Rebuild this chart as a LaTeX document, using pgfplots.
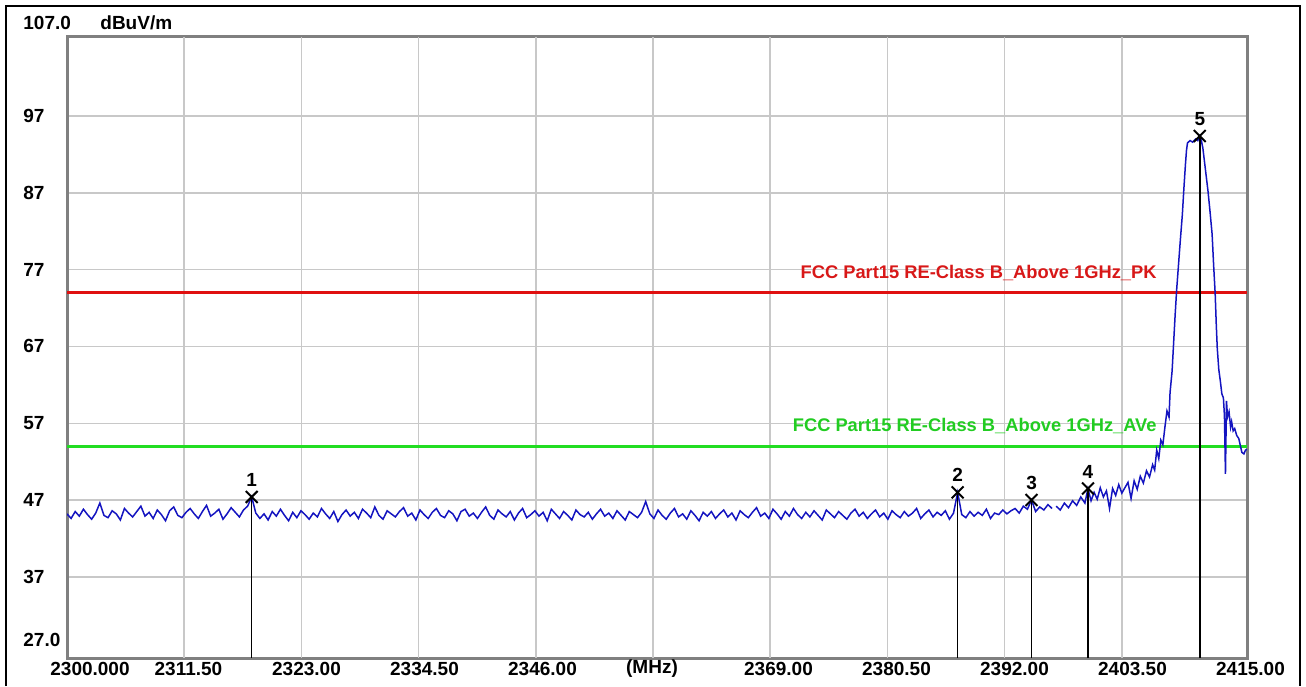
\documentclass[border=0pt]{standalone}
\usepackage{pgfplots}
\pgfplotsset{compat=1.18}
\usepackage{pgfplotstable}
\usepackage{fontspec}
\setmainfont{Liberation Sans}
\definecolor{frameg}{HTML}{808080}
\definecolor{gridg}{HTML}{C8C8C8}
\definecolor{trace}{HTML}{1414C0}
\definecolor{pkred}{HTML}{E01010}
\definecolor{avgreen}{HTML}{22DD22}
\definecolor{pktext}{HTML}{D81818}
\definecolor{avtext}{HTML}{22CC22}
\newcommand\tf{\bfseries\fontsize{9.5}{11}\selectfont}
\newcommand\lf{\bfseries\fontsize{9.15}{11}\selectfont}

\pgfplotstableread{
y
45.2
44.6
45.5
44.9
45.8
45.1
44.5
45.3
46.6
45.0
44.7
45.6
45.2
44.4
45.9
45.3
44.8
45.5
46.2
44.9
45.4
44.6
45.7
45.1
44.3
45.6
46.1
45.0
44.7
45.4
45.9
45.2
44.6
45.5
46.3
44.9
45.3
45.8
44.5
45.2
46.0
45.4
44.8
45.7
46.2
47.4
45.3
44.6
45.2
44.4
45.5
44.9
45.8
45.0
44.3
45.4
44.7
45.6
45.1
44.5
45.3
44.8
45.9
45.2
44.6
45.5
44.2
45.1
45.7
44.9
45.4
44.6
45.8
45.3
44.7
46.1
45.0
44.5
45.6
45.2
44.8
45.5
46.0
44.9
45.3
44.4
45.7
45.1
44.6
45.4
45.9
45.0
44.7
45.6
45.2
44.3
45.5
45.8
44.9
45.3
44.6
45.4
46.1
45.0
44.5
45.7
45.2
44.8
45.5
44.4
45.3
45.9
44.7
45.1
45.6
44.9
45.4
44.3
45.8
45.2
44.6
45.5
45.0
44.4
45.7
45.1
44.8
45.4
44.5
45.2
45.8
44.9
45.3
44.6
45.6
45.0
44.4
45.5
45.1
44.7
45.4
46.8
45.2
44.6
45.7
45.0
44.5
45.3
45.9
44.8
45.2
44.5
45.6
45.0
44.3
45.4
44.9
45.5
44.6
45.2
45.7
44.8
45.3
44.4
45.6
45.1
44.7
45.4
46.0
44.9
45.3
44.6
45.8
45.2
44.5
45.5
44.9
45.9
45.1
44.6
45.4
44.8
45.6
45.0
44.4
45.7
45.2
44.7
45.5
45.0
44.5
45.3
45.8
44.9
45.4
44.6
45.2
45.7
44.8
45.3
44.5
45.6
45.1
44.7
45.5
44.9
45.3
45.9
44.6
45.2
45.7
44.8
45.4
45.0
45.6
44.5
45.3
48.0
45.1
44.7
45.5
44.9
45.4
45.0
45.8
44.6
45.3
45.1
45.7
45.2
45.6
45.9
45.3
46.2
45.8
47.0
45.5
46.1
45.7
46.4
45.9
}\noisetable

\pgfplotstableread{
x y
2396.4 46.2
2396.8 45.7
2397.2 46.6
2397.6 46.0
2398.0 46.9
2398.4 46.3
2398.8 47.4
2399.2 46.6
2399.5 48.5
2399.8 46.9
2400.1 48.0
2400.4 47.1
2400.7 48.6
2401.0 47.4
2401.3 48.2
2401.6 45.9
2401.9 48.5
2402.2 47.6
2402.5 49.0
2402.8 47.9
2403.1 48.6
2403.4 49.3
2403.7 47.2
2404.0 49.5
2404.3 48.4
2404.6 50.1
2404.9 49.2
2405.2 50.8
2405.5 50.0
2405.8 51.6
2406.0 50.9
2406.2 53.5
2406.4 52.4
2406.6 54.8
2406.8 54.2
2407.0 56.5
2407.2 58.6
2407.4 57.8
2407.5 61.0
2407.7 63.8
2407.85 67.5
2408.0 71.2
2408.15 74.5
2408.3 77.2
2408.5 80.8
2408.7 84.2
2408.85 87.6
2409.0 90.7
2409.1 92.5
2409.2 93.5
2409.45 93.8
2409.7 93.6
2410.0 94.0
2410.2 93.8
2410.4 94.4
2410.55 93.8
2410.7 92.8
2410.95 90.0
2411.2 87.2
2411.4 84.5
2411.6 81.6
2411.75 77.5
2411.9 73.8
2412.0 70.0
2412.1 66.8
2412.25 64.0
2412.4 62.5
2412.55 60.8
2412.7 60.3
2412.8 58.0
2412.9 50.4
2413.0 59.9
2413.1 57.8
2413.25 58.5
2413.4 56.5
2413.5 57.2
2413.65 56.0
2413.8 56.3
2414.0 55.4
2414.2 55.0
2414.35 54.1
2414.5 53.2
2414.7 53.0
2414.85 53.5
2415.0 53.6
}\peaktable

\begin{document}
\begin{tikzpicture}
\begin{axis}[
  at={(0,0)}, anchor=south west,
  scale only axis, width=590pt, height=310.5pt,
  xmin=2300, xmax=2415, ymin=26.43, ymax=107.29,
  axis line style={frameg, line width=1.5pt},
  major tick length=0pt, tick style={draw=none},
  /pgf/number format/assume math mode=true,
  ticklabel style={font=\tf, text=black},
  xtick={2300,2311.5,2323,2334.5,2346,2357.5,2369,2380.5,2392,2403.5,2415},
  xticklabels={{\hspace*{19.5pt}2300.000},2311.50,2323.00,2334.50,2346.00,{(MHz)\hspace*{8.5pt}},2369.00,2380.50,2392.00,2403.50,2415.00},
  xticklabel style={anchor=center, inner sep=0pt, yshift=-5.5pt, xshift=1.75pt},
  ytick={37,47,57,67,77,87,97},
  yticklabels={37,47,57,67,77,87,97},
  yticklabel style={anchor=west, inner sep=0pt, xshift=-22pt},
  ymajorgrids,
  grid style={gridg, line width=0.7pt},
  extra x ticks={2311.42,2322.84,2334.27,2345.69,2357.11,2368.53,2379.95,2391.38,2402.80},
  extra x tick labels={},
  extra x tick style={grid=major},
]
\addplot[pkred, line width=1.5pt] coordinates {(2300,74) (2415,74)};
\addplot[avgreen, line width=1.5pt] coordinates {(2300,54) (2415,54)};
\addplot[trace, line width=0.75pt] table[x expr=2300+0.4*\coordindex, y=y] {\noisetable};
\addplot[trace, line width=0.75pt] table[x=x, y=y] {\peaktable};
\addplot[black, line width=0.8pt, ycomb] coordinates {(2318.0,47.4) (2386.8,48.0) (2394.0,47.0) (2399.5,48.5) (2410.4,94.4)};
\addplot[only marks, mark=x, mark size=4.2pt, mark options={line width=1pt, black},
  nodes near coords, point meta=explicit symbolic,
  nodes near coords style={anchor=center, yshift=8.5pt, font=\tf, text=black, inner sep=0pt}]
  coordinates {(2318.0,47.4)[1] (2386.8,48.0)[2] (2394.0,47.0)[3] (2399.5,48.5)[4] (2410.4,94.4)[5]};
\node[anchor=east, inner sep=0pt, text=pktext, font=\lf] at (axis cs:2406.23,76.56) {FCC Part15 RE-Class B\_Above 1GHz\_PK};
\node[anchor=east, inner sep=0pt, text=avtext, font=\lf] at (axis cs:2406.23,56.64) {FCC Part15 RE-Class B\_Above 1GHz\_AVe};
\end{axis}
\node[anchor=base west, inner sep=0pt, font=\tf] at (-22pt,314pt) {107.0};
\node[anchor=base west, inner sep=0pt, font=\tf] at (16.5pt,314pt) {dBuV/m};
\node[anchor=base west, inner sep=0pt, font=\tf] at (-22pt,6pt) {27.0};
\draw[black, line width=0.6pt] (-30.5pt,-14pt) -- (-30.5pt,326pt) -- (616.5pt,326pt) -- (616.5pt,-14pt);
\pgfresetboundingbox
\path (-33.5pt,-14pt) rectangle (619.5pt,329pt);
\end{tikzpicture}
\end{document}
